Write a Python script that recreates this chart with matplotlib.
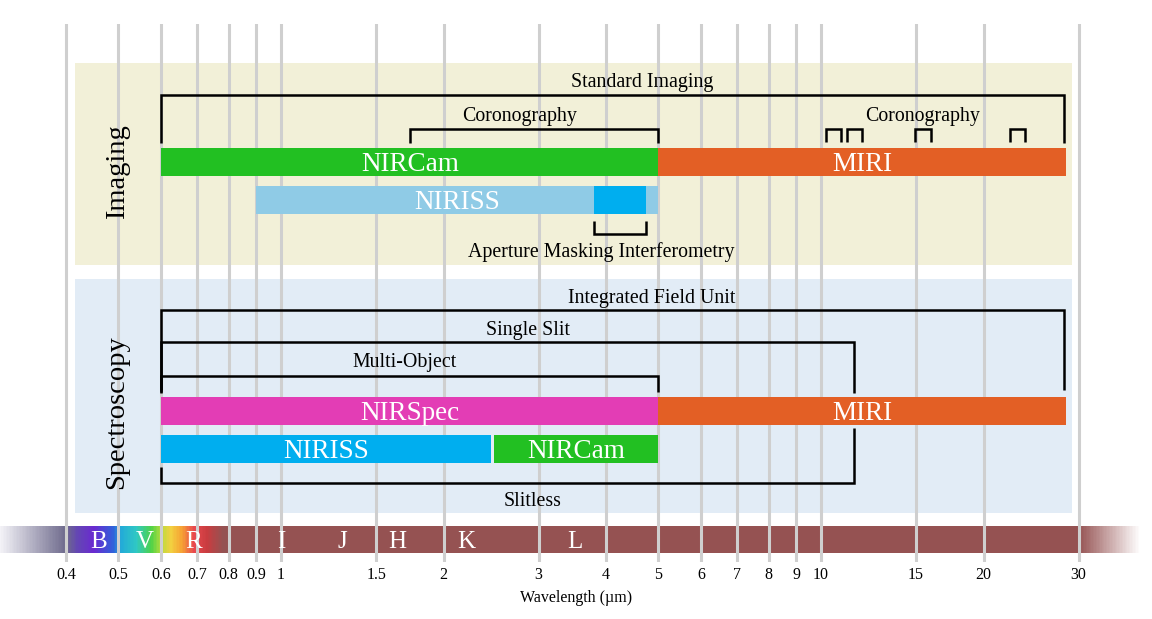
import numpy as np
import matplotlib
matplotlib.use('Agg')
import matplotlib.pyplot as plt
from matplotlib.colors import to_rgb

plt.rcParams['font.family'] = ['Liberation Serif', 'DejaVu Serif']

## data

ticks = [0.4, 0.5, 0.6, 0.7, 0.8, 0.9, 1, 1.5, 2, 3, 4, 5, 6, 7, 8, 9, 10, 15, 20, 30]
tick_labels = ['0.4', '0.5', '0.6', '0.7', '0.8', '0.9', '1', '1.5', '2', '3', '4', '5',
               '6', '7', '8', '9', '10', '15', '20', '30']

bands = ['B', 'V', 'R', 'I', 'J', 'H', 'K', 'L']
band_centers = [0.46, 0.56, 0.69, 1.0, 1.3, 1.64, 2.2, 3.5]

# imaging instruments (microns)
img_names = ['NIRCam', 'MIRI', 'NIRISS']
img_start = [0.6, 5.0, 0.9]
img_end = [5.0, 28.4, 5.0]
img_colors = ['#22c022', '#e35f25', '#8fcbe6']
ami_range = [3.8, 4.75]

# spectroscopy instruments (microns)
spec_names = ['NIRSpec', 'MIRI', 'NIRISS', 'NIRCam']
spec_start = [0.6, 5.0, 0.6, 2.48]
spec_end = [5.0, 28.4, 2.45, 5.0]
spec_colors = ['#e33db5', '#e35f25', '#00aeef', '#22c022']

# observing modes
std_imaging = [0.6, 28.2]
coron_nircam = [1.73, 5.0]
coron_miri_lo = [10.22, 11.17, 14.95, 22.4]
coron_miri_hi = [10.9, 11.92, 16.0, 23.9]
ifu = [0.6, 28.2]
single_slit = [0.6, 11.5]
multi_object = [0.6, 5.0]
slitless = [0.6, 11.5]

panel_range = [0.415, 29.2]

## figure

fig = plt.figure(figsize=(11.52, 6.19), dpi=100)
ax = fig.add_axes([0, 57 / 619, 1, 538 / 619])
ax.set_xscale('log')
ax.set_xlim(10 ** (-281 / 540), 10 ** (871 / 540))
ax.set_ylim(562, 24)
ax.patch.set_alpha(0)
for s in ax.spines.values():
    s.set_visible(False)
ax.set_yticks([])
ax.set_xticks(ticks, tick_labels)
ax.xaxis.set_minor_locator(matplotlib.ticker.NullLocator())
ax.tick_params(axis='x', length=0, pad=3.5, labelsize=11.5)
ax.set_xlabel('Wavelength (µm)', fontsize=11.5, labelpad=5)
ax.set_axisbelow(False)
ax.grid(axis='x', color='#cfcfcf', linewidth=2.2, zorder=2)

# panels
pw = panel_range[1] - panel_range[0]
ax.barh(164, pw, left=panel_range[0], height=202, color='#f2f0d8', zorder=1)
ax.barh(396, pw, left=panel_range[0], height=234, color='#e2ecf6', zorder=1)
ax.text(0.497, 172, 'Imaging', rotation=90, ha='center', va='center', fontsize=20.5)
ax.text(0.497, 412, 'Spectroscopy', rotation=90, ha='center', va='center', fontsize=20.5)

# spectrum strip
stops_l = [10 ** (-281 / 540), 0.40, 0.42, 0.45, 0.49, 0.505, 0.54, 0.575, 0.60, 0.625,
           0.655, 0.69, 0.73, 0.78, 30, 10 ** (859 / 540), 10 ** (871 / 540)]
stops_c = ['#f4f4f8', '#6e6a8c', '#6446b4', '#6a2ad0', '#2f62da', '#22aad8', '#30c8c4',
           '#4ed248', '#b8dc3c', '#f2d040', '#f6a234', '#e8484e', '#c83c40', '#955252',
           '#955252', '#ffffff', '#ffffff']
xe = np.logspace(np.log10(stops_l[0]), np.log10(stops_l[-1]), 800)
xm = np.sqrt(xe[:-1] * xe[1:])
rgb = np.array([to_rgb(c) for c in stops_c])
cols = np.stack([np.interp(np.log10(xm), np.log10(stops_l), rgb[:, k]) for k in range(3)], axis=-1)
ax.pcolormesh(xe, [526, 553], cols[np.newaxis, :, :], zorder=1)
for b, c in zip(bands, band_centers):
    ax.text(c, 542.5, b, color='white', ha='center', va='center', fontsize=18)

# bars
def bar(y, x0, x1, color, label=None):
    ax.barh(y, x1 - x0, left=x0, height=28, color=color, zorder=3)
    if label:
        ax.text(np.sqrt(x0 * x1), y + 2.5, label, color='white', ha='center', va='center',
                fontsize=19.5, zorder=4)

bar(162, img_start[0], img_end[0], img_colors[0], img_names[0])
bar(162, img_start[1], img_end[1], img_colors[1], img_names[1])
bar(200, img_start[2], img_end[2], img_colors[2], img_names[2])
bar(200, ami_range[0], ami_range[1], '#00aeef')
for i in range(len(spec_names)):
    y = 410.5 if i < 2 else 449
    bar(y, spec_start[i], spec_end[i], spec_colors[i], spec_names[i])

# brackets
def bracket(x0, x1, ytop, ybot):
    ax.plot([x0, x0, x1, x1], [ybot, ytop, ytop, ybot], color='black', lw=1.8,
            solid_joinstyle='miter', solid_capstyle='butt', zorder=4)

lab = dict(ha='center', va='center', fontsize=14.3, zorder=4)
bracket(std_imaging[0], std_imaging[1], 95, 143)
ax.text(4.66, 82, 'Standard Imaging', **lab)
bracket(coron_nircam[0], coron_nircam[1], 129, 143)
ax.text(2.77, 116, 'Coronography', **lab)
for lo, hi in zip(coron_miri_lo, coron_miri_hi):
    bracket(lo, hi, 129, 142)
ax.text(15.45, 116, 'Coronography', **lab)
bracket(ami_range[0], ami_range[1], 234, 221)
ax.text(3.91, 252, 'Aperture Masking Interferometry', **lab)

bracket(ifu[0], ifu[1], 310, 390)
ax.text(4.86, 298, 'Integrated Field Unit', **lab)
bracket(single_slit[0], single_slit[1], 342, 393)
ax.text(2.87, 330, 'Single Slit', **lab)
bracket(multi_object[0], multi_object[1], 376, 392)
ax.text(1.69, 363, 'Multi-Object', **lab)
ax.plot([slitless[0], slitless[0], slitless[1], slitless[1]], [467, 483, 483, 428],
        color='black', lw=1.8, solid_joinstyle='miter', solid_capstyle='butt', zorder=4)
ax.text(2.92, 501, 'Slitless', **lab)

plt.savefig('out.png', dpi=100)
